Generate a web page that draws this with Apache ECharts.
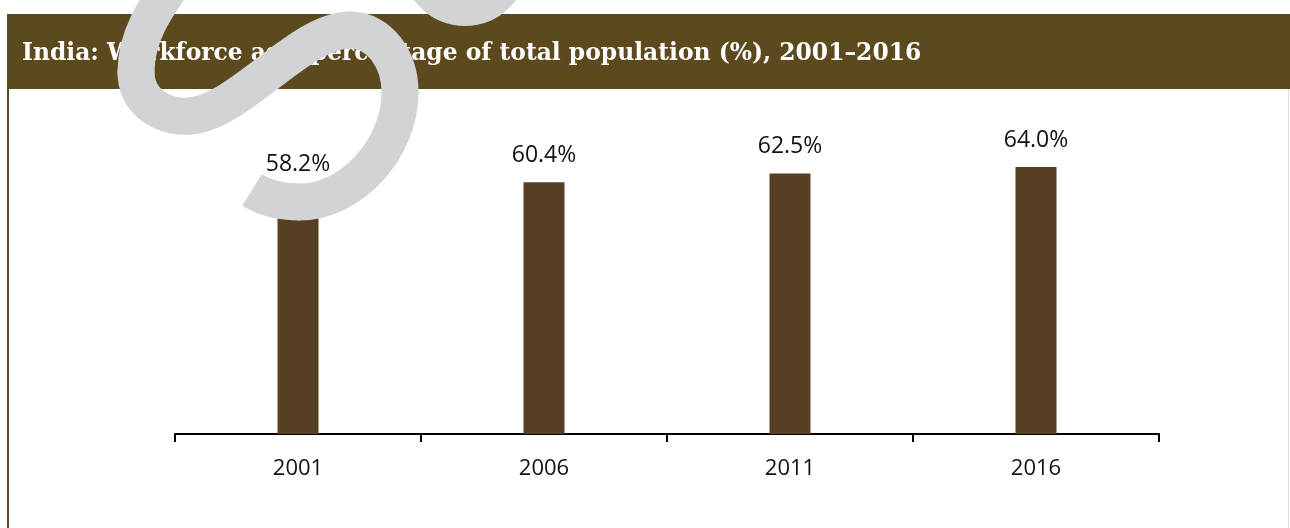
<!DOCTYPE html>
<html>
<head>
<meta charset="utf-8">
<style>
  html, body { margin: 0; padding: 0; background: #ffffff; }
  #chart { width: 1290px; height: 528px; }
</style>
<script src="https://cdn.jsdelivr.net/npm/echarts@6/dist/echarts.min.js"></script>
</head>
<body>
<div id="chart"></div>
<script>
// Workforce as a share of total population, India
const years = ['2001', '2006', '2011', '2016'];
const workforceShare = [58.2, 60.4, 62.5, 64.0];
const chartTitle = 'India: Workforce as a percentage of total population (%), 2001\u20132016';

const BROWN = '#5c4a1e';
const BAR = '#563f23';
const SWIRL = '#d1d3d4';

// grey ribbon laid over the header, as a chain of cubic segments
// [x1, y1, cpx1, cpy1, cpx2, cpy2, x2, y2]
const ribbon = [
  [182, -30, 162, 0, 136, 30, 136, 72],
  [136, 72, 136, 100, 160, 118, 190, 116],
  [190, 116, 240, 112, 300, 30, 350, 30],
  [350, 30, 380, 30, 400, 60, 400, 92],
  [400, 92, 400, 150, 350, 202, 300, 202],
  [300, 202, 280, 202, 265, 198, 252, 190]
];

const ribbonGraphics = ribbon.map((s, i) => ({
  type: 'bezierCurve',
  z: 100,
  silent: true,
  shape: { x1: s[0], y1: s[1], cpx1: s[2], cpy1: s[3], cpx2: s[4], cpy2: s[5], x2: s[6], y2: s[7] },
  style: {
    fill: null,
    stroke: SWIRL,
    lineWidth: 37,
    lineCap: i === ribbon.length - 1 ? 'butt' : 'round'
  }
}));

const chart = echarts.init(document.getElementById('chart'), null, { renderer: 'canvas' });

chart.setOption({
  animation: false,
  backgroundColor: '#ffffff',
  title: {
    text: chartTitle,
    left: 17,
    top: 37,
    textStyle: {
      color: '#ffffff',
      fontFamily: 'DejaVu Serif',
      fontWeight: 'bold',
      fontSize: 23.4
    },
    z: 5
  },
  grid: { left: 175, right: 131, top: 17, bottom: 94, containLabel: false },
  xAxis: {
    type: 'category',
    data: years,
    boundaryGap: true,
    axisLine: { show: true, lineStyle: { color: '#000000', width: 2 } },
    axisTick: { show: true, alignWithLabel: false, length: 8, lineStyle: { color: '#000000', width: 2 } },
    axisLabel: { color: '#111111', fontSize: 22, fontFamily: 'Open Sans', margin: 24 }
  },
  yAxis: {
    type: 'value',
    min: 0,
    max: 100,
    show: false,
    splitLine: { show: false }
  },
  series: [{
    type: 'bar',
    data: workforceShare,
    barWidth: 41,
    itemStyle: { color: BAR },
    label: {
      show: true,
      position: 'top',
      distance: 15,
      fontSize: 23,
      fontFamily: 'Open Sans',
      color: '#111111',
      formatter: p => p.value.toFixed(1) + '%'
    }
  }],
  graphic: [
    // header band
    { type: 'rect', shape: { x: 7, y: 14, width: 1283, height: 75 }, style: { fill: BROWN }, z: 0, silent: true },
    // left frame rule
    { type: 'rect', shape: { x: 7, y: 89, width: 2, height: 439 }, style: { fill: BROWN }, z: 0, silent: true },
    // right frame rule
    { type: 'rect', shape: { x: 1288, y: 89, width: 1, height: 439 }, style: { fill: '#dedede' }, z: 0, silent: true },
    ...ribbonGraphics,
    {
      type: 'arc',
      z: 100,
      silent: true,
      shape: { cx: 465, cy: -37, r: 45, startAngle: 0, endAngle: Math.PI },
      style: { fill: null, stroke: SWIRL, lineWidth: 36 }
    }
  ]
});
</script>
</body>
</html>
